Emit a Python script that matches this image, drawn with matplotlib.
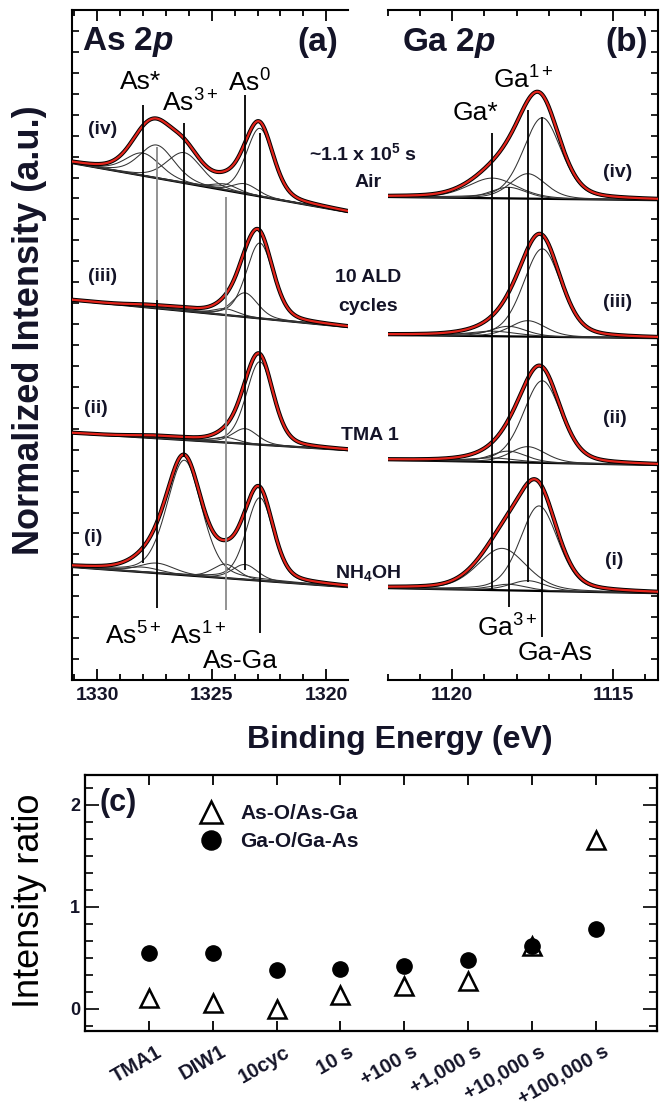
import numpy as np
import matplotlib
matplotlib.use('Agg')
import matplotlib.pyplot as plt
from matplotlib.ticker import MultipleLocator
from matplotlib.transforms import ScaledTranslation

plt.rcParams['font.family'] = ['Liberation Sans', 'DejaVu Sans']
plt.rcParams['mathtext.fontset'] = 'custom'
plt.rcParams['mathtext.rm'] = 'Liberation Sans'
plt.rcParams['mathtext.it'] = 'Liberation Sans:italic'
plt.rcParams['mathtext.bf'] = 'Liberation Sans:bold'
plt.rcParams['mathtext.bfit'] = 'Liberation Sans:bold:italic'

# ---- panel (a): As 2p fit components -------------------------------------
as_centers = [1328.0, 1327.4, 1326.2, 1324.4, 1323.55, 1322.9]   # As*, As5+, As3+, As1+, As0, As-Ga
as_fwhm = [1.8, 1.8, 1.8, 1.3, 1.3, 1.4]
as_h_i = [0.24, 0.48, 5.49, 0.67, 0.72, 3.96]
as_h_ii = [0.04, 0.05, 0.05, 0.25, 0.72, 3.96]
as_h_iii = [0.05, 0.05, 0.08, 0.30, 1.15, 3.60]
as_h_iv = [1.08, 1.58, 1.45, 0.30, 0.48, 3.25]
as_bkg_i = [5.40, 4.44]
as_bkg_ii = [11.80, 10.98]
as_bkg_iii = [18.15, 16.86]
as_bkg_iv = [24.69, 22.35]

as_line_e = [1328.0, 1327.4, 1327.4, 1326.2, 1324.4, 1323.55, 1322.9]
as_line_top = [27.46, 25.45, 18.15, 26.60, 23.07, 27.94, 26.12]
as_line_bot = [5.59, 18.15, 3.44, 10.65, 3.34, 5.25, 2.24]

# ---- panel (b): Ga 2p fit components -------------------------------------
ga_centers = [1118.75, 1118.25, 1117.65, 1117.2]   # Ga*, Ga3+, Ga1+, Ga-As
ga_centers_i = [1118.45, 1118.25, 1117.65, 1117.3]
ga_fwhm = [1.8, 1.3, 1.3, 1.4]
ga_h_i = [2.00, 0.29, 0.48, 4.06]
ga_h_ii = [0.19, 0.53, 0.76, 3.92]
ga_h_iii = [0.24, 0.48, 0.76, 4.20]
ga_h_iv = [0.96, 0.53, 1.19, 3.87]
ga_bkg_i = [4.39, 4.15]
ga_bkg_ii = [10.51, 10.27]
ga_bkg_iii = [16.48, 16.33]
ga_bkg_iv = [23.07, 22.92]

ga_line_e = [1118.75, 1118.25, 1117.65, 1117.2]
ga_line_top = [26.12, 23.54, 27.22, 26.89]
ga_line_bot = [4.30, 3.49, 4.68, 2.05]

# ---- panel (c): intensity ratios -----------------------------------------
steps = ['TMA1', 'DIW1', '10cyc', '10 s', '+100 s', '+1,000 s', '+10,000 s', '+100,000 s']
as_ratio = [0.10, 0.05, 0.00, 0.13, 0.22, 0.27, 0.61, 1.65]
ga_ratio = [0.54, 0.54, 0.38, 0.39, 0.42, 0.48, 0.61, 0.78]

RED = '#e3241b'
TXT = '#141428'


def pvoigt(e, c, h, w, eta=0.3):
    g = np.exp(-4 * np.log(2) * ((e - c) / w) ** 2)
    l = 1.0 / (1 + 4 * ((e - c) / w) ** 2)
    return h * (eta * l + (1 - eta) * g)


def draw_spectrum(ax, e, centers, fwhm, heights, bkg):
    base = bkg[0] + (bkg[1] - bkg[0]) * (e - e[0]) / (e[-1] - e[0])
    comps = [pvoigt(e, c, h, w) for c, w, h in zip(centers, fwhm, heights)]
    ax.plot(e, base, color='k', lw=1.6, zorder=3)
    for cp in comps:
        ax.plot(e, base + cp, color='#333333', lw=0.75, zorder=3)
    total = base + np.sum(comps, axis=0)
    ax.plot(e, total, color='k', lw=3.0, zorder=4)
    ax.plot(e, total, color=RED, lw=1.6, zorder=5)


def style_xps_axis(ax, xlim, side):
    ax.set_xlim(*xlim)
    ax.set_ylim(0, 32)
    ax.xaxis.set_major_locator(MultipleLocator(5))
    ax.xaxis.set_minor_locator(MultipleLocator(1))
    ax.yaxis.set_major_locator(MultipleLocator(1))
    ax.tick_params(axis='x', which='both', direction='in', top=True, bottom=True,
                   width=1.3, labelsize=14, pad=5, labelcolor=TXT)
    ax.tick_params(axis='x', which='major', length=8)
    ax.tick_params(axis='x', which='minor', length=4.5)
    ax.tick_params(axis='y', which='major', direction='in', length=5, width=1.2,
                   left=(side == 'left'), right=(side == 'right'),
                   labelleft=False, labelright=False)
    for lab in ax.get_xticklabels():
        lab.set_fontweight('bold')
    for s in ax.spines.values():
        s.set_linewidth(1.5)
    if side == 'left':
        ax.spines['right'].set_visible(False)
    else:
        ax.spines['left'].set_visible(False)


fig = plt.figure(figsize=(6.62, 11.13), dpi=100)
axa = fig.add_axes([0.1088, 0.389, 0.417, 0.602])
axb = fig.add_axes([0.586, 0.389, 0.408, 0.602])
axc = fig.add_axes([0.1284, 0.0737, 0.864, 0.230])

# panel (a)
ea = np.linspace(1331.1, 1319.05, 700)
for h, b in [(as_h_i, as_bkg_i), (as_h_ii, as_bkg_ii), (as_h_iii, as_bkg_iii), (as_h_iv, as_bkg_iv)]:
    draw_spectrum(axa, ea, as_centers, as_fwhm, h, b)
as_line_col = ['k', '#8a8a8a', 'k', 'k', '#8a8a8a', 'k', 'k']
axa.vlines(as_line_e, as_line_bot, as_line_top, colors=as_line_col, lw=1.3, zorder=6)
style_xps_axis(axa, (1331.1, 1319.05), 'left')

axa.text(0.036, 0.952, r'As 2$\mathbfit{p}$', transform=axa.transAxes, fontsize=24,
         fontweight='bold', color=TXT, va='center')
axa.text(0.891, 0.952, '(a)', transform=axa.transAxes, fontsize=24,
         fontweight='bold', color=TXT, va='center', ha='center')
fs_ion = 19
axa.text(0.174, 0.893, 'As*', transform=axa.transAxes, fontsize=fs_ion, va='center')
axa.text(0.326, 0.861, r'As$^{3+}$', transform=axa.transAxes, fontsize=fs_ion, va='center')
axa.text(0.565, 0.891, r'As$^{0}$', transform=axa.transAxes, fontsize=fs_ion, va='center')
axa.text(0.120, 0.066, r'As$^{5+}$', transform=axa.transAxes, fontsize=fs_ion, va='center')
axa.text(0.355, 0.066, r'As$^{1+}$', transform=axa.transAxes, fontsize=fs_ion, va='center')
axa.text(0.475, 0.028, 'As-Ga', transform=axa.transAxes, fontsize=fs_ion, va='center')
for lab, yf, xf in [('(iv)', 0.821, 0.058), ('(iii)', 0.603, 0.058),
                    ('(ii)', 0.406, 0.043), ('(i)', 0.212, 0.043)]:
    axa.text(xf, yf, lab, transform=axa.transAxes, fontsize=14, fontweight='bold',
             color=TXT, va='center')

# panel (b)
eb = np.linspace(1122.0, 1113.6, 700)
for c, h, b in [(ga_centers_i, ga_h_i, ga_bkg_i), (ga_centers, ga_h_ii, ga_bkg_ii),
                (ga_centers, ga_h_iii, ga_bkg_iii), (ga_centers, ga_h_iv, ga_bkg_iv)]:
    draw_spectrum(axb, eb, c, ga_fwhm, h, b)
axb.vlines(ga_line_e, ga_line_bot, ga_line_top, colors='k', lw=1.3, zorder=6)
style_xps_axis(axb, (1122.0, 1113.6), 'right')

axb.text(0.052, 0.951, r'Ga 2$\mathbfit{p}$', transform=axb.transAxes, fontsize=24,
         fontweight='bold', color=TXT, va='center')
axb.text(0.885, 0.951, '(b)', transform=axb.transAxes, fontsize=24,
         fontweight='bold', color=TXT, va='center', ha='center')
axb.text(0.241, 0.846, 'Ga*', transform=axb.transAxes, fontsize=fs_ion, va='center')
axb.text(0.389, 0.896, r'Ga$^{1+}$', transform=axb.transAxes, fontsize=fs_ion, va='center')
axb.text(0.330, 0.078, r'Ga$^{3+}$', transform=axb.transAxes, fontsize=fs_ion, va='center')
axb.text(0.481, 0.040, 'Ga-As', transform=axb.transAxes, fontsize=fs_ion, va='center')
for lab, yf, xf in [('(iv)', 0.757, 0.796), ('(iii)', 0.563, 0.796),
                    ('(ii)', 0.391, 0.796), ('(i)', 0.179, 0.804)]:
    axb.text(xf, yf, lab, transform=axb.transAxes, fontsize=14, fontweight='bold',
             color=TXT, va='center')

# labels between the two panels
for lab, fx, fy in [(r'~1.1 x 10$^{\mathbf{5}}$ s', 0.548, 0.8625), ('Air', 0.556, 0.8356),
                    ('10 ALD', 0.556, 0.7511), ('cycles', 0.556, 0.7242),
                    ('TMA 1', 0.558, 0.6083), (r'NH$_{\mathbf{4}}$OH', 0.556, 0.4852)]:
    fig.text(fx, fy, lab, fontsize=14, fontweight='bold', color=TXT,
             ha='center', va='center')

fig.text(0.604, 0.335, 'Binding Energy (eV)', fontsize=23, fontweight='bold',
         color=TXT, ha='center', va='center')
fig.text(0.045, 0.7035, 'Normalized Intensity (a.u.)', fontsize=26, fontweight='bold',
         color=TXT, ha='center', va='center', rotation=90)

# panel (c)
x = np.arange(len(steps))
axc.plot(x, as_ratio, ls='none', marker='^', ms=13, mfc='white', mec='k', mew=1.8,
         label='As-O/As-Ga', zorder=3)
axc.plot(x, ga_ratio, ls='none', marker='o', ms=11, mfc='k', mec='k',
         label='Ga-O/Ga-As', zorder=4)
axc.set_xlim(-1.0, 7.96)
axc.set_ylim(-0.22, 2.29)
axc.set_xticks(x)
axc.yaxis.set_major_locator(MultipleLocator(1))
axc.yaxis.set_minor_locator(MultipleLocator(1 / 6))
axc.tick_params(axis='x', direction='in', top=True, length=7, width=1.3, pad=14)
axc.tick_params(axis='y', which='both', direction='in', left=True, right=True, width=1.2)
axc.tick_params(axis='y', which='major', length=10, labelsize=13, labelcolor=TXT)
axc.tick_params(axis='y', which='minor', length=6)
axc.set_xticklabels(steps, rotation=30, ha='right', va='center',
                    rotation_mode='anchor', fontsize=14.5, fontweight='bold', color=TXT)
offset = ScaledTranslation(0.12, 0, fig.dpi_scale_trans)
for lab in axc.get_xticklabels():
    lab.set_transform(lab.get_transform() + offset)
for lab in axc.get_yticklabels():
    lab.set_fontweight('bold')
for s in axc.spines.values():
    s.set_linewidth(1.6)
axc.text(0.026, 0.89, '(c)', transform=axc.transAxes, fontsize=22, fontweight='bold',
         color=TXT, va='center')
leg = axc.legend(loc='upper left', bbox_to_anchor=(0.17, 0.96), frameon=False,
                 fontsize=15, markerscale=1.25, handlelength=1.0, handletextpad=0.9,
                 labelspacing=0.45)
for t in leg.get_texts():
    t.set_fontweight('bold')
    t.set_color(TXT)
fig.text(0.044, 0.1905, 'Intensity ratio', fontsize=26, ha='center', va='center',
         rotation=90)

fig.savefig('out.png', dpi=100)
